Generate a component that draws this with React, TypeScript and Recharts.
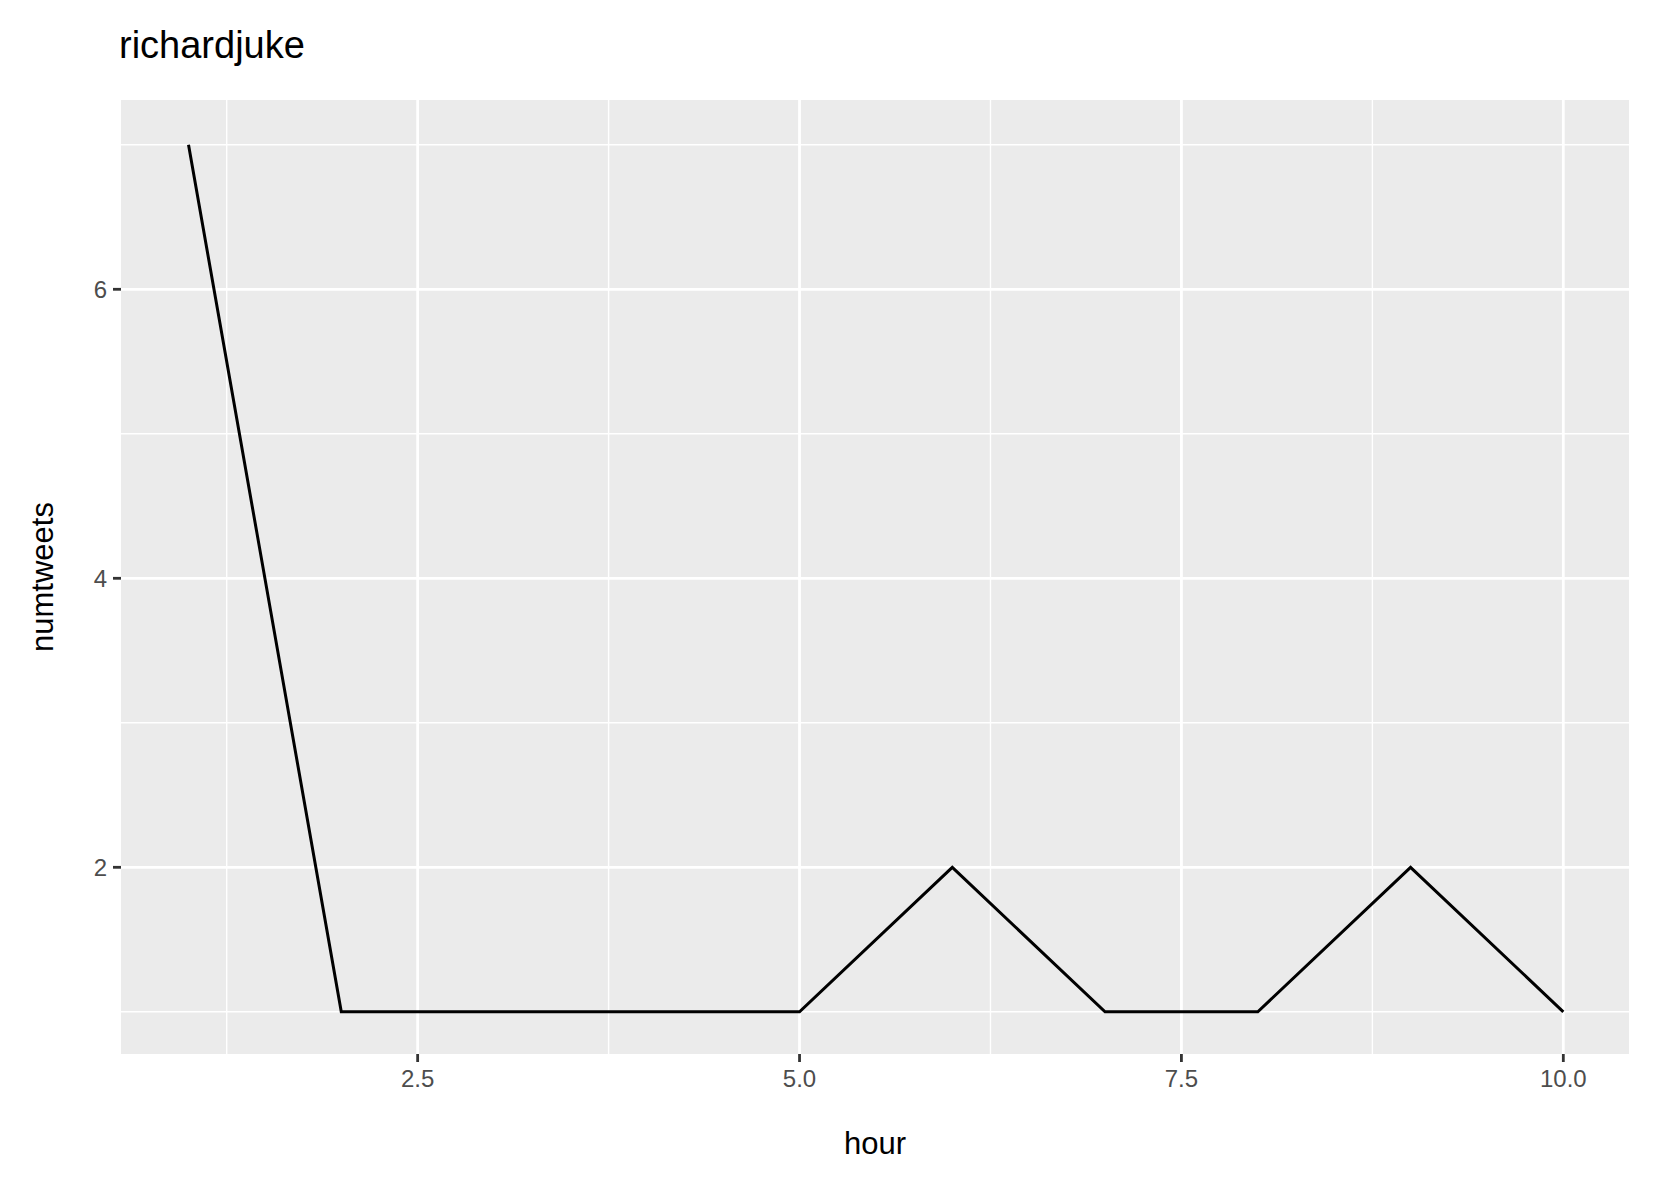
import React from "react";
import { LineChart, Line, XAxis, YAxis, ReferenceLine, ReferenceArea } from "recharts";

const hours = [1, 2, 3, 4, 5, 6, 7, 8, 9, 10];
const numtweets = [7, 1, 1, 1, 1, 2, 1, 1, 2, 1];
const xTicks = [2.5, 5, 7.5, 10];
const xMinor = [1.25, 3.75, 6.25, 8.75];
const yTicks = [2, 4, 6];
const yMinor = [1, 3, 5, 7];
const data = hours.map((h, i) => ({ hour: h, numtweets: numtweets[i] }));

const XD: [number, number] = [0.558, 10.43];
const YD: [number, number] = [0.708, 7.31];

export default function App() {
  return (
    <div style={{ position: "absolute", left: 0, top: 0, width: 1653, height: 1181, background: "#fff", fontFamily: "Liberation Sans, Arial, sans-serif" }}>
      <LineChart width={1653} height={1181} data={data} margin={{ top: 100, right: 24, bottom: 0, left: 0 }}>
        <XAxis type="number" dataKey="hour" domain={XD} ticks={xTicks} allowDataOverflow
          tickFormatter={(v: number) => v.toFixed(1)} height={127} axisLine={false}
          tickSize={8} tickLine={{ stroke: "#333", strokeWidth: 2.8 }}
          tick={{ fill: "#4d4d4d", fontSize: 24 }} tickMargin={8}
          label={{ value: "hour", position: "insideTop", offset: 78, fill: "#000", fontSize: 31 }} />
        <YAxis type="number" domain={YD} ticks={yTicks} allowDataOverflow width={121} axisLine={false}
          tickSize={8} tickLine={{ stroke: "#333", strokeWidth: 2.8 }}
          tick={{ fill: "#4d4d4d", fontSize: 24 }} tickMargin={6}
          label={{ value: "numtweets", angle: -90, position: "insideLeft", offset: 42, fill: "#000", fontSize: 31, style: { textAnchor: "middle" } }} />
        <ReferenceArea x1={XD[0]} x2={XD[1]} y1={YD[0]} y2={YD[1]} fill="#ebebeb" fillOpacity={1} stroke="none" />
        {xMinor.map(v => <ReferenceLine key={"xm" + v} x={v} stroke="#fff" strokeWidth={1.4} />)}
        {yMinor.map(v => <ReferenceLine key={"ym" + v} y={v} stroke="#fff" strokeWidth={1.4} />)}
        {xTicks.map(v => <ReferenceLine key={"x" + v} x={v} stroke="#fff" strokeWidth={2.8} />)}
        {yTicks.map(v => <ReferenceLine key={"y" + v} y={v} stroke="#fff" strokeWidth={2.8} />)}
        <Line type="linear" dataKey="numtweets" stroke="#000" strokeWidth={3} dot={false} isAnimationActive={false} />
      </LineChart>
      <div style={{ position: "absolute", left: 119, top: 24, fontSize: 38, color: "#000" }}>richardjuke</div>
    </div>
  );
}
